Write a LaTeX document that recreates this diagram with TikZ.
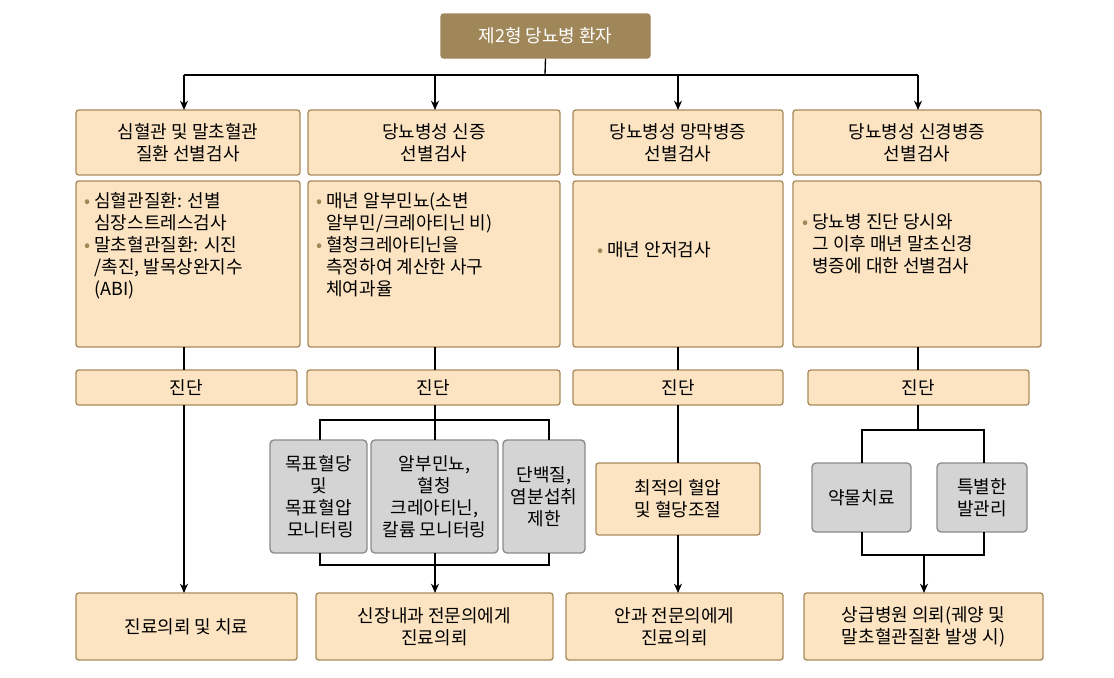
\documentclass[tikz,border=0pt]{standalone}
\usepackage{fontspec}
\setmainfont{Noto Sans CJK KR}
\usetikzlibrary{arrows.meta}
\definecolor{tan}{HTML}{FCE4C2}
\definecolor{tanb}{HTML}{A88B5E}
\definecolor{brn}{HTML}{A0875A}
\definecolor{gry}{HTML}{D4D4D4}
\definecolor{gryb}{HTML}{8A8A8A}
\newcommand{\bl}{\textcolor{brn}{\textbullet}~}
\begin{document}
\begin{tikzpicture}[x=0.75pt,y=-0.75pt,
 font=\fontsize{13.5}{16.5}\selectfont,
 bx/.style={draw=tanb,fill=tan,rounded corners=2pt,line width=1pt,inner sep=0pt,align=center},
 gb/.style={draw=gryb,fill=gry,rounded corners=3pt,line width=1pt,inner sep=0pt,align=center},
 ln/.style={line width=1pt},
 ar/.style={line width=1pt,-{Stealth[length=7pt,width=6pt]}}]
\useasboundingbox (0,0) rectangle (1114,678);
\newcommand{\bb}[6]{\node[#6,minimum width={(#3-#1)*0.75pt},minimum height={(#4-#2)*0.75pt}] (#5) at ({(#1+#3)/2},{(#2+#4)/2}) {};}
% title
\bb{441}{14}{650}{58}{t}{bx,fill=brn,draw=brn}
\node[text=white] at (t) {제2형 당뇨병 환자};
% headers
\bb{76}{110}{300}{175}{h1}{bx}\node[align=center] at (h1) {심혈관 및 말초혈관\\질환 선별검사};
\bb{308}{110}{560}{175}{h2}{bx}\node[align=center] at (h2) {당뇨병성 신증\\선별검사};
\bb{573}{110}{783}{175}{h3}{bx}\node[align=center] at (h3) {당뇨병성 망막병증\\선별검사};
\bb{793}{110}{1041}{175}{h4}{bx}\node[align=center] at (h4) {당뇨병성 신경병증\\선별검사};
% contents
\bb{76}{181}{300}{347}{c1}{bx}
\node[anchor=north west,align=left,inner sep=0pt] at (84,192) {\bl 심혈관질환: 선별\\\phantom{\bl}심장스트레스검사\\\bl 말초혈관질환: 시진\\\phantom{\bl}/촉진, 발목상완지수\\\phantom{\bl}(ABI)};
\bb{308}{181}{560}{347}{c2}{bx}
\node[anchor=north west,align=left,inner sep=0pt] at (316,192) {\bl 매년 알부민뇨(소변\\\phantom{\bl}알부민/크레아티닌 비)\\\bl 혈청크레아티닌을\\\phantom{\bl}측정하여 계산한 사구\\\phantom{\bl}체여과율};
\bb{573}{181}{783}{347}{c3}{bx}
\node[anchor=west,inner sep=0pt] at (597,250) {\bl 매년 안저검사};
\bb{793}{181}{1041}{347}{c4}{bx}
\node[anchor=north west,align=left,inner sep=0pt] at (802,213) {\bl 당뇨병 진단 당시와\\\phantom{\bl}그 이후 매년 말초신경\\\phantom{\bl}병증에 대한 선별검사};
% diagnosis
\bb{76}{370}{297}{405}{d1}{bx}\node at (d1) {진단};
\bb{307}{370}{560}{405}{d2}{bx}\node at (d2) {진단};
\bb{573}{370}{783}{405}{d3}{bx}\node at (d3) {진단};
\bb{808}{370}{1029}{405}{d4}{bx}\node at (d4) {진단};
% gray
\bb{270}{440}{367}{553}{g1}{gb}\node[align=center] at (g1) {목표혈당\\및\\목표혈압\\\ 모니터링};
\bb{371}{440}{498}{553}{g2}{gb}\node[align=center] at (g2) {알부민뇨,\\혈청\\크레아티닌,\\칼륨 모니터링};
\bb{503}{440}{585}{553}{g3}{gb}\node[align=center] at (g3) {단백질,\\염분섭취\\제한};
\bb{596}{463}{760}{535}{m3}{bx}\node[align=center] at (m3) {최적의 혈압\\및 혈당조절};
\bb{812}{463}{911}{532}{g4}{gb}\node at (g4) {약물치료};
\bb{937}{463}{1027}{532}{g5}{gb}\node[align=center] at (g5) {특별한\\발관리};
% bottom
\bb{76}{593}{297}{660}{b1}{bx}\node at (b1) {진료의뢰 및 치료};
\bb{316}{593}{553}{660}{b2}{bx}\node[align=center] at (b2) {신장내과 전문의에게\\진료의뢰};
\bb{566}{593}{783}{660}{b3}{bx}\node[align=center] at (b3) {안과 전문의에게\\진료의뢰};
\bb{804}{593}{1043}{660}{b4}{bx}\node[align=center] at (b4) {상급병원 의뢰(궤양 및\\말초혈관질환 발생 시)};
% connectors
\coordinate (s) at (545,75);
\draw[ln] (t.south) -- (s);
\draw[ln] (184,75) -- (918,75);
\draw[ar] (184,75) -- (184,110);
\draw[ar] (435,75) -- (435,110);
\draw[ar] (678,75) -- (678,110);
\draw[ar] (918,75) -- (918,110);
\draw[ln] (184,347) -- (184,370);
\draw[ln] (435,347) -- (435,370);
\draw[ln] (678,347) -- (678,370);
\draw[ln] (918,347) -- (918,370);
\draw[ar] (184,405) -- (184,593);
\draw[ln] (435,405) -- (435,440);
\draw[ln] (320,440) -- (320,420) -- (549,420) -- (549,440);
\draw[ln] (320,553) -- (320,565) -- (549,565) -- (549,553);
\draw[ln] (435,553) -- (435,565);
\draw[ar] (435,565) -- (435,593);
\draw[ln] (678,405) -- (678,463);
\draw[ar] (678,535) -- (678,593);
\draw[ln] (918,405) -- (918,430);
\draw[ln] (862,463) -- (862,430) -- (984,430) -- (984,463);
\draw[ln] (862,532) -- (862,555) -- (984,555) -- (984,532);
\draw[ar] (924,555) -- (924,593);
\end{tikzpicture}
\end{document}
